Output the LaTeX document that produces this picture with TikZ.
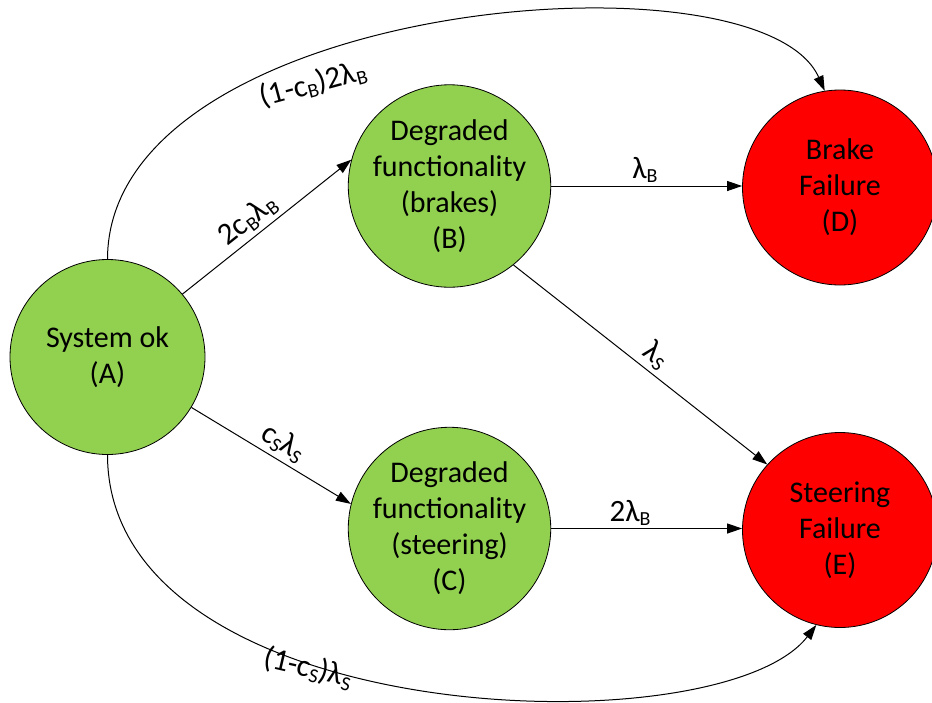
\documentclass[tikz,border=0pt]{standalone}
\usepackage{fontspec}
\setmainfont{Carlito}
\usetikzlibrary{arrows.meta}
\definecolor{okgreen}{HTML}{92D050}
\definecolor{failred}{HTML}{FF0000}
% subscript letters on the rate labels
\newcommand{\lsub}[1]{\raisebox{-0.14em}{\fontsize{20}{20}\selectfont #1}}
\begin{document}
\begin{tikzpicture}[x=1pt,y=-1pt,
  state/.style={circle,draw=black,line width=0.8pt,minimum size=195pt,
    inner sep=0pt,align=center,font=\fontsize{30}{36}\selectfont},
  okstate/.style={state,fill=okgreen},
  failstate/.style={state,fill=failred},
  trans/.style={draw=black,line width=1pt,-{Triangle[length=15pt,width=10pt]}},
  rate/.style={font=\fontsize{31}{31}\selectfont,inner sep=0pt}]
\useasboundingbox (0,0) rectangle (932,702);

% states of the Markov model
\node[okstate]   (A) at (107.5,357)   {System ok\\(A)};
\node[okstate]   (B) at (449.5,186)   {Degraded\\functionality\\(brakes)\\(B)};
\node[okstate]   (C) at (449.5,528.5) {Degraded\\functionality\\(steering)\\(C)};
\node[failstate] (D) at (840,187.5)   {Brake\\Failure\\(D)};
\node[failstate] (E) at (840,530)     {Steering\\Failure\\(E)};

% transitions with their rates
\draw[trans] (A.40) -- node[rate,sloped,above=4pt,pos=0.45] (rAB) {2c\lsub{B}λ\lsub{B}} (B.165);
\draw[trans] (A.-31) -- node[rate,sloped,above=4pt,pos=0.52] (rAC) {c\lsub{S}λ\lsub{S}} (C.166);
\draw[trans] (B.east) -- (B.east -| D.west);
\draw[trans] (C.east) -- (C.east -| E.west);
\draw[trans] (B.-51) -- node[rate,sloped,above=4pt,pos=0.52] (rBE) {λ\lsub{S}} (E.138);
\draw[trans] (A.north) .. controls (108,0) and (760,-55) .. (D.99);
\draw[trans] (A.south) .. controls (108,730) and (720,750) .. (E.256);

% rates placed by hand
\node[rate,rotate=15]  (rAD) at (313,84)  {(1-c\lsub{B})2λ\lsub{B}};
\node[rate,rotate=-13] (rAE) at (308,668) {(1-c\lsub{S})λ\lsub{S}};
\node[rate]            (rBD) at (645,170) {λ\lsub{B}};
\node[rate]            (rCE) at (630,513) {2λ\lsub{B}};
\end{tikzpicture}
\end{document}
